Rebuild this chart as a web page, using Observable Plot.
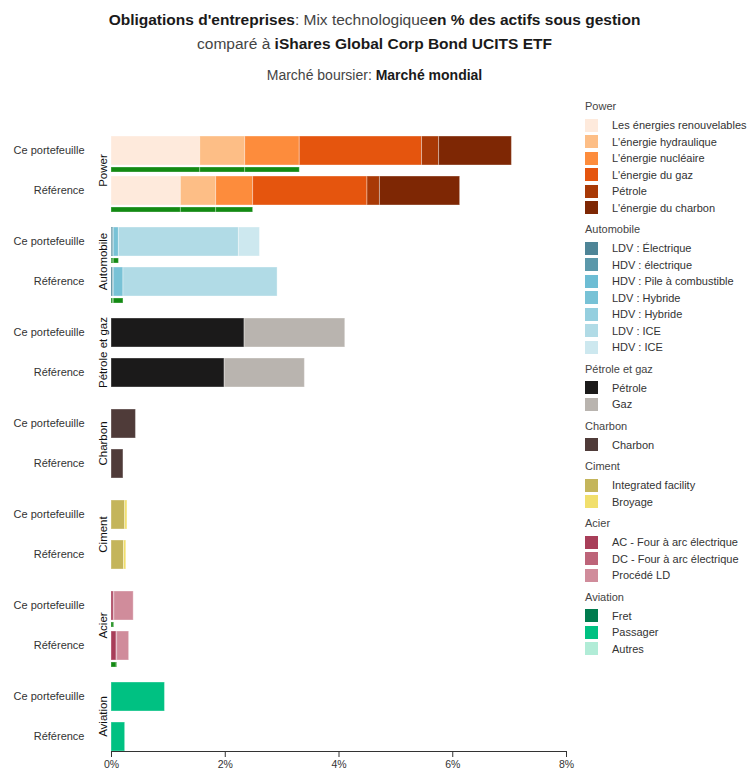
<!DOCTYPE html>
<html>
<head>
<meta charset="utf-8">
<script src="https://cdn.jsdelivr.net/npm/d3@7"></script>
<script src="https://cdn.jsdelivr.net/npm/@observablehq/plot@0.6"></script>
<style>
  html, body { margin: 0; padding: 0; background: #fff; }
  body { font-family: "Liberation Sans", Arial, Helvetica, sans-serif; }
  #wrap { position: relative; width: 749px; height: 769px; overflow: hidden; }
  .tline { position: absolute; left: 0; width: 749px; text-align: center; color: #444; white-space: nowrap; }
  .tline b { color: #1a1a1a; }
  #chart { position: absolute; left: 0; top: 100px; }
  .lg-title { position: absolute; left: 585px; font-size: 11px; color: #444; line-height: 14px; transform: translateY(-7px); white-space: nowrap; }
  .lg-item { position: absolute; left: 585px; font-size: 11px; color: #333; line-height: 14px; transform: translateY(-7px); white-space: nowrap; }
  .lg-sw { position: absolute; left: 0; top: 0.5px; width: 13px; height: 13px; }
  .lg-lab { position: absolute; left: 27px; top: 0; }
</style>
</head>
<body>
<div id="wrap">
  <div class="tline" style="top:10px;font-size:15.5px;line-height:19px;"><b>Obligations d'entreprises</b>: Mix technologique<b>en % des actifs sous gestion</b></div>
  <div class="tline" style="top:34px;font-size:15.5px;line-height:19px;">comparé à <b>iShares Global Corp Bond UCITS ETF</b></div>
  <div class="tline" style="top:67px;font-size:14px;line-height:17px;">Marché boursier: <b>Marché mondial</b></div>
  <div id="chart"></div>
  <div id="legend"></div>
</div>
<script>
// ---- data ----
const sectors = ["Power", "Automobile", "Pétrole et gaz", "Charbon", "Ciment", "Acier", "Aviation"];
const portfolios = ["Ce portefeuille", "Référence"];

const powerTechs = ["Les énergies renouvelables", "L'énergie hydraulique", "L'énergie nucléaire", "L'énergie du gaz", "Pétrole", "L'énergie du charbon"];
const powerPortfolio = [1.56, 0.79, 0.96, 2.15, 0.30, 1.28];
const powerReference = [1.22, 0.62, 0.65, 2.01, 0.22, 1.41];
const powerLowCarbon = ["Les énergies renouvelables", "L'énergie hydraulique", "L'énergie nucléaire"];

const autoTechs = ["LDV : Électrique", "HDV : électrique", "HDV : Pile à combustible", "LDV : Hybride", "HDV : Hybride", "LDV : ICE", "HDV : ICE"];
const autoPortfolio = [0.02, 0.02, 0, 0.09, 0, 2.11, 0.37];
const autoReference = [0.03, 0.01, 0, 0.17, 0, 2.71, 0];
const autoLowCarbon = ["LDV : Électrique", "HDV : électrique", "HDV : Pile à combustible", "LDV : Hybride", "HDV : Hybride"];

const oilGasTechs = ["Pétrole", "Gaz"];
const oilGasPortfolio = [2.34, 1.77];
const oilGasReference = [1.99, 1.41];

const coalTechs = ["Charbon"];
const coalPortfolio = [0.43];
const coalReference = [0.21];

const cementTechs = ["Integrated facility", "Broyage"];
const cementPortfolio = [0.24, 0.04];
const cementReference = [0.22, 0.04];

const steelTechs = ["AC - Four à arc électrique", "DC - Four à arc électrique", "Procédé LD"];
const steelPortfolio = [0.04, 0.01, 0.34];
const steelReference = [0.09, 0.01, 0.21];
const steelLowCarbon = ["AC - Four à arc électrique", "DC - Four à arc électrique"];

const aviationTechs = ["Fret", "Passager", "Autres"];
const aviationPortfolio = [0, 0.94, 0];
const aviationReference = [0, 0.24, 0];

const xTicks = [0, 2, 4, 6, 8];

// ---- palettes ----
const powerColors = ["#feeadc", "#fdbe86", "#fd8c3c", "#e5550e", "#a83906", "#7e2704"];
const autoColors = ["#4e8597", "#5b98aa", "#6dbdd4", "#78c2d6", "#95cfdf", "#b1dbe6", "#cde8ef"];
const oilGasColors = ["#1b1a1a", "#b9b4af"];
const coalColors = ["#4f3b39"];
const cementColors = ["#c4b55b", "#f1df6c"];
const steelColors = ["#a83e59", "#bd6479", "#d08c9b"];
const aviationColors = ["#007b4e", "#00c182", "#b1ecd7"];
const greenColor = "#138a13";

// ---- build tables ----
const sectorDefs = [
  {sector: sectors[0], techs: powerTechs, colors: powerColors, vals: [powerPortfolio, powerReference], low: powerLowCarbon},
  {sector: sectors[1], techs: autoTechs, colors: autoColors, vals: [autoPortfolio, autoReference], low: autoLowCarbon},
  {sector: sectors[2], techs: oilGasTechs, colors: oilGasColors, vals: [oilGasPortfolio, oilGasReference], low: []},
  {sector: sectors[3], techs: coalTechs, colors: coalColors, vals: [coalPortfolio, coalReference], low: []},
  {sector: sectors[4], techs: cementTechs, colors: cementColors, vals: [cementPortfolio, cementReference], low: []},
  {sector: sectors[5], techs: steelTechs, colors: steelColors, vals: [steelPortfolio, steelReference], low: steelLowCarbon},
  {sector: sectors[6], techs: aviationTechs, colors: aviationColors, vals: [aviationPortfolio, aviationReference], low: []}
];

const rows = [];
const greenRows = [];
const colorDomain = [];
const colorRange = [];
for (const def of sectorDefs) {
  def.techs.forEach((t, i) => { colorDomain.push(def.sector + "|" + t); colorRange.push(def.colors[i]); });
  portfolios.forEach((p, pi) => {
    def.techs.forEach((t, i) => {
      const row = {sector: def.sector, portfolio: p, tech: t, key: def.sector + "|" + t, value: def.vals[pi][i]};
      rows.push(row);
      if (def.low.includes(t)) greenRows.push(row);
    });
  });
}

const chart = Plot.plot({
  width: 575,
  height: 669,
  marginTop: 34,
  marginLeft: 111,
  marginRight: 9,
  marginBottom: 18,
  style: {fontFamily: "'Liberation Sans', Arial, sans-serif", fontSize: "11px", color: "#333", background: "transparent"},
  x: {domain: [0, 8], label: null},
  y: {domain: portfolios, paddingInner: 0.2875, paddingOuter: 0, label: null},
  fy: {domain: sectors, paddingInner: 0.236, paddingOuter: 0, axis: null, label: null},
  color: {domain: colorDomain, range: colorRange},
  marks: [
    Plot.barX(rows, Plot.stackX({x: "value", y: "portfolio", fy: "sector", fill: "key", order: null,
      stroke: "white", strokeOpacity: 0.35, strokeWidth: 1})),
    Plot.barX(greenRows, Plot.stackX({x: "value", y: "portfolio", fy: "sector", z: "key", fill: greenColor, order: null,
      insetTop: 31, insetBottom: -7, stroke: "white", strokeOpacity: 0.3, strokeWidth: 1})),
    Plot.axisY({tickSize: 0, tickPadding: 27, label: null, fill: "#333", fontSize: 11, dy: -1}),
    Plot.axisX({ticks: xTicks, tickFormat: d => d + "%", tickSize: 6, tickPadding: 3, label: null, fill: "#333", stroke: "#333", fontSize: 10.5}),
    Plot.frame({anchor: "bottom", facetAnchor: "bottom", stroke: "#333"}),
    Plot.text(sectors, {fy: d => d, text: d => d, frameAnchor: "left", textAnchor: "middle", lineAnchor: "middle", dx: -8, rotate: -90, fill: "#111", fontSize: 11.5})
  ]
});
document.getElementById("chart").appendChild(chart);

// ---- legend ----
const legend = document.getElementById("legend");
let ly = 106;
sectorDefs.forEach((def, gi) => {
  if (gi > 0) ly += 21.5;
  const t = document.createElement("div");
  t.className = "lg-title";
  t.style.top = ly + "px";
  t.textContent = def.sector;
  legend.appendChild(t);
  ly += 19;
  def.techs.forEach((tech, i) => {
    if (i > 0) ly += 16.5;
    const it = document.createElement("div");
    it.className = "lg-item";
    it.style.top = ly + "px";
    const sw = document.createElement("span");
    sw.className = "lg-sw";
    sw.style.background = def.colors[i];
    const lab = document.createElement("span");
    lab.className = "lg-lab";
    lab.textContent = tech;
    it.appendChild(sw);
    it.appendChild(lab);
    legend.appendChild(it);
  });
});
</script>
</body>
</html>
